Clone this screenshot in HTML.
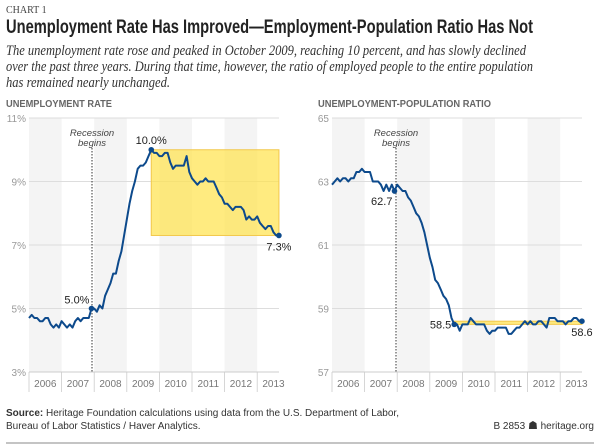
<!DOCTYPE html>
<html><head><meta charset="utf-8"><style>
html,body{margin:0;padding:0;background:#fff}
svg{display:block}
</style></head><body>
<svg id="s" width="600" height="446" xmlns="http://www.w3.org/2000/svg" font-family="Liberation Sans, sans-serif">
<text x="6" y="13" font-family="Liberation Serif, serif" font-size="10" fill="#444">CHART 1</text>
<text x="6" y="33" font-size="19" font-weight="bold" fill="#222" textLength="527" lengthAdjust="spacingAndGlyphs">Unemployment Rate Has Improved—Employment-Population Ratio Has Not</text>
<g font-family="Liberation Serif, serif" font-style="italic" font-size="14.5" fill="#333">
<text x="6" y="55" textLength="520" lengthAdjust="spacingAndGlyphs">The unemployment rate rose and peaked in October 2009, reaching 10 percent, and has slowly declined</text>
<text x="6" y="71" textLength="527" lengthAdjust="spacingAndGlyphs">over the past three years. During that time, however, the ratio of employed people to the entire population</text>
<text x="6" y="87" textLength="164" lengthAdjust="spacingAndGlyphs">has remained nearly unchanged.</text>
</g>
<text x="6" y="107" font-size="10.5" font-weight="bold" fill="#666" textLength="106" lengthAdjust="spacingAndGlyphs">UNEMPLOYMENT RATE</text>
<text x="318" y="107" font-size="10.5" font-weight="bold" fill="#666" textLength="173" lengthAdjust="spacingAndGlyphs">UNEMPLOYMENT-POPULATION RATIO</text>
<g id="c"></g>
<text x="6" y="416" font-size="10" fill="#333"><tspan font-weight="bold">Source:</tspan> Heritage Foundation calculations using data from the U.S. Department of Labor,</text>
<text x="6" y="429" font-size="10" fill="#333">Bureau of Labor Statistics / Haver Analytics.</text>
<text x="594" y="429" font-size="10" fill="#333" text-anchor="end">B 2853 <tspan font-size="11">☗</tspan> heritage.org</text>
<line x1="6" y1="443" x2="594" y2="443" stroke="#888" stroke-width="1"/>
</svg>
<script>
var ur=[4.7,4.8,4.7,4.7,4.6,4.6,4.7,4.7,4.5,4.4,4.5,4.4,4.6,4.5,4.4,4.5,4.4,4.6,4.7,4.6,4.7,4.7,4.7,5.0,5.0,4.9,5.1,5.0,5.4,5.6,5.8,6.1,6.1,6.5,6.8,7.3,7.8,8.3,8.7,9.0,9.4,9.5,9.5,9.6,9.8,10.0,9.9,9.9,9.8,9.8,9.9,9.9,9.6,9.4,9.5,9.5,9.5,9.5,9.8,9.3,9.1,9.0,8.9,9.0,9.0,9.1,9.0,9.0,9.0,8.8,8.6,8.5,8.3,8.3,8.2,8.1,8.2,8.2,8.2,8.1,7.8,7.9,7.8,7.8,7.9,7.7,7.6,7.5,7.6,7.6,7.4,7.3,7.3];
var ep=[62.9,63.0,63.1,63.0,63.1,63.1,63.0,63.1,63.1,63.3,63.3,63.4,63.3,63.3,63.3,63.0,63.0,63.0,62.9,62.7,62.9,62.7,62.9,62.7,62.9,62.8,62.7,62.7,62.5,62.4,62.2,62.0,61.9,61.7,61.4,61.0,60.6,60.3,59.9,59.8,59.6,59.4,59.3,59.1,58.7,58.5,58.5,58.3,58.5,58.5,58.5,58.7,58.6,58.5,58.5,58.5,58.5,58.3,58.2,58.3,58.3,58.4,58.4,58.4,58.4,58.2,58.2,58.3,58.4,58.4,58.5,58.6,58.5,58.6,58.5,58.5,58.6,58.6,58.5,58.4,58.7,58.7,58.7,58.6,58.6,58.6,58.5,58.6,58.6,58.7,58.7,58.6,58.6];
var h='';
function chart(x0,ticks,lo,hi,data,suffix,box,labels,recX){
  var x1=x0+250,yt=118,yb=372,yw=32.6,st=yw/12;
  function Y(v){return yb-(v-lo)/(hi-lo)*(yb-yt)}
  function X(i){return x0+i*st}
  for(var k=0;k<8;k++){var bx=x0+k*yw;var w=Math.min(yw,x1-bx);
    if(k%2==0)h+='<rect x="'+bx+'" y="'+yt+'" width="'+w+'" height="'+(yb-yt)+'" fill="#f4f4f4"/>';
    h+='<text x="'+(bx+yw/2)+'" y="387" font-size="10" fill="#777" text-anchor="middle">'+(2006+k)+'</text>';
    h+='<line x1="'+bx+'" y1="372" x2="'+bx+'" y2="392" stroke="#ccc" stroke-width="0.8"/>';}
  ticks.forEach(function(t){var y=Y(t);
    h+='<line x1="'+x0+'" y1="'+y+'" x2="'+x1+'" y2="'+y+'" stroke="#ddd" stroke-width="1"/>';
    h+='<text x="'+(x0-3)+'" y="'+(y+4)+'" font-size="10" fill="#999" text-anchor="end">'+t+suffix+'</text>';});
  h+='<line x1="'+x0+'" y1="'+yb+'" x2="'+x1+'" y2="'+yb+'" stroke="#ccc"/>';
  h+='<rect x="'+X(box[0])+'" y="'+Y(box[1])+'" width="'+(X(box[2])-X(box[0]))+'" height="'+(Y(box[3])-Y(box[1]))+'" fill="#ffe24a" fill-opacity="0.7" stroke="#f2c84b" stroke-width="1"/>';
  h+='<line x1="'+recX+'" y1="148" x2="'+recX+'" y2="'+yb+'" stroke="#333" stroke-width="1" stroke-dasharray="1.5,1.5"/>';
  h+='<text x="'+recX+'" y="136" font-size="9.5" font-style="italic" fill="#444" text-anchor="middle">Recession</text>';
  h+='<text x="'+recX+'" y="146" font-size="9.5" font-style="italic" fill="#444" text-anchor="middle">begins</text>';
  var p=data.map(function(v,i){return X(i).toFixed(1)+','+Y(v).toFixed(1)}).join(' ');
  h+='<polyline points="'+p+'" fill="none" stroke="#0d4a8c" stroke-width="2" stroke-linejoin="round"/>';
  labels.forEach(function(l){h+='<circle cx="'+X(l[0])+'" cy="'+Y(data[l[0]])+'" r="2.8" fill="#0d4a8c"/>';
    h+='<text x="'+(X(l[0])+l[2])+'" y="'+(Y(data[l[0]])+l[3])+'" font-size="11" fill="#222" text-anchor="'+l[4]+'">'+l[1]+'</text>';});
}
chart(29,[11,9,7,5,3],3,11,ur,'%',[45,10,92,7.3],[[23,'5.0%',-2,-5,'end'],[45,'10.0%',0,-6,'middle'],[92,'7.3%',0,15,'middle']],92);
chart(332,[65,63,61,59,57],57,65,ep,'',[45,58.6,92,58.5],[[23,'62.7',-2,14,'end'],[45,'58.5',-3,4,'end'],[92,'58.6',0,15,'middle']],396);
document.getElementById('c').innerHTML=h;
</script>
</body></html>
